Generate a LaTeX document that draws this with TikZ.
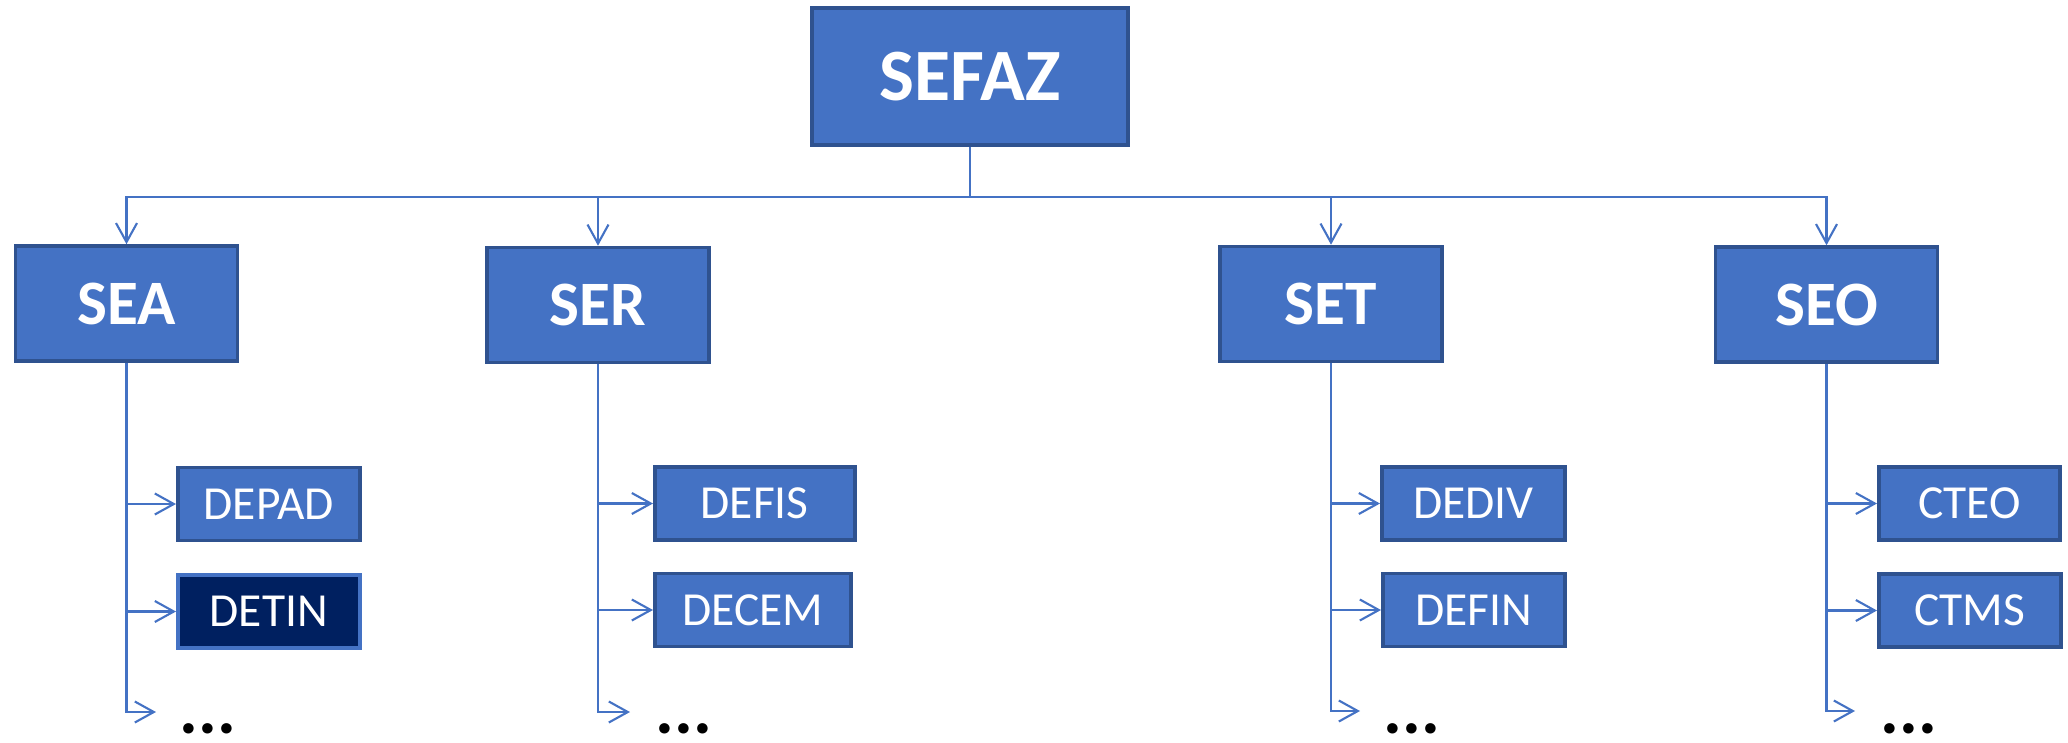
\documentclass[tikz,border=0pt]{standalone}
\usepackage{fontspec}
\setmainfont{Carlito}
\usetikzlibrary{arrows.meta}
\definecolor{boxblue}{HTML}{4472C4}
\definecolor{edgeblue}{HTML}{2F528F}
\definecolor{navy}{HTML}{002060}

\begin{document}
\begin{tikzpicture}[link/.style={draw=boxblue,line width=0.6pt},
    arr/.style={link,-{Straight Barb[length=1.9mm,width=2.1mm]}},
    top node/.style={rectangle,draw=edgeblue,fill=boxblue,line width=1pt,text=white,font=\fontsize{21}{25}\selectfont\bfseries,minimum width=3.16cm,minimum height=1.37cm},
    sec node/.style={top node,font=\fontsize{18}{22}\selectfont\bfseries,minimum width=2.22cm,minimum height=1.15cm},
    sub node/.style={rectangle,draw=edgeblue,fill=boxblue,line width=1pt,text=white,font=\fontsize{13.5}{16}\selectfont,minimum height=0.73cm,anchor=west},
    more/.style={font=\fontsize{20}{22}\selectfont\bfseries,inner sep=0pt,anchor=base west}]
    \useasboundingbox (0,0) rectangle (20.68,-7.42);

    \node[top node] at (9.70,-0.765) (sefaz) {SEFAZ};
    \node[sec node] at (1.265,-3.035) (sea) {SEA};
    \node[sec node] at (5.98,-3.05) (ser) {SER};
    \node[sec node] at (13.31,-3.04) (set) {SET};
    \node[sec node] at (18.265,-3.045) (seo) {SEO};

    \node[sub node,minimum width=1.82cm] at (1.76,-5.04) (depad) {DEPAD};
    \node[sub node,minimum width=1.82cm,fill=navy,draw=boxblue] at (1.76,-6.115) (detin) {DETIN};
    \node[sub node,minimum width=2.00cm] at (6.53,-5.035) (defis) {DEFIS};
    \node[sub node,minimum width=1.96cm] at (6.53,-6.10) (decem) {DECEM};
    \node[sub node,minimum width=1.83cm] at (13.80,-5.035) (dediv) {DEDIV};
    \node[sub node,minimum width=1.82cm] at (13.81,-6.10) (defin) {DEFIN};
    \node[sub node,minimum width=1.81cm] at (18.77,-5.035) (cteo) {CTEO};
    \node[sub node,minimum width=1.82cm] at (18.77,-6.105) (ctms) {CTMS};

    \coordinate (bus) at (9.70,-1.97);
    \coordinate (seamore) at (1.56,-7.12);
    \coordinate (sermore) at (6.30,-7.12);
    \coordinate (setmore) at (13.60,-7.11);
    \coordinate (seomore) at (18.55,-7.11);

    \node[more] at (1.79,-7.33) (seadots) {...};
    \node[more] at (6.55,-7.33) (serdots) {...};
    \node[more] at (13.83,-7.33) (setdots) {...};
    \node[more] at (18.80,-7.33) (seodots) {...};

    \draw[link] (sefaz.south) -- (bus);
    \foreach \n in {sea,ser,set,seo}
        \draw[arr] (bus) -| (\n.north);

    \foreach \p/\a/\b in {sea/depad/detin,ser/defis/decem,set/dediv/defin,seo/cteo/ctms} {
        \draw[arr] (\p.south) |- (\a.west);
        \draw[arr] (\p.south) |- (\b.west);
        \draw[arr] (\p.south) |- (\p more);
    }
\end{tikzpicture}
\end{document}
